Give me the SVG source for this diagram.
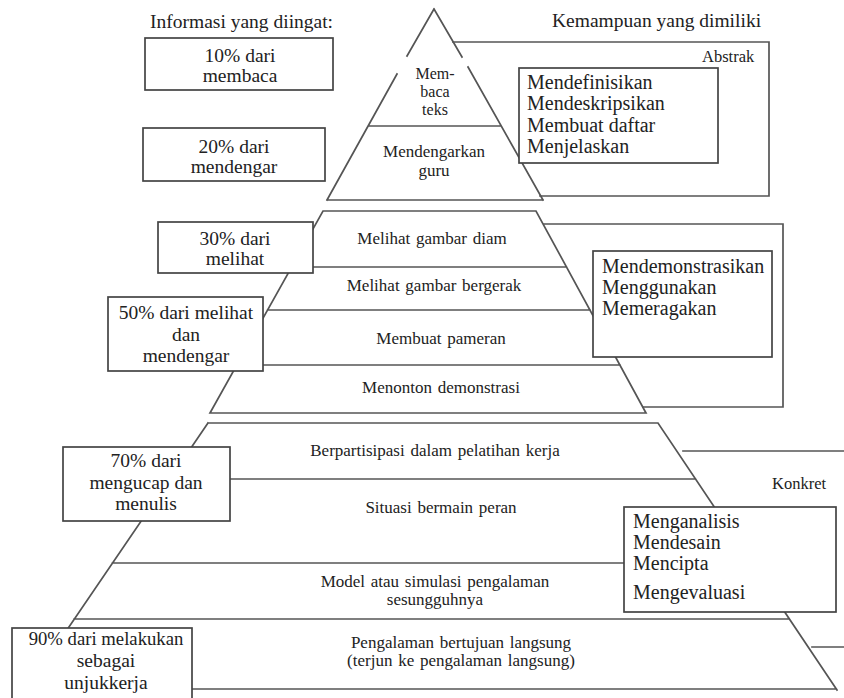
<svg xmlns="http://www.w3.org/2000/svg" width="844" height="698" viewBox="0 0 844 698">
<style>
.ln{stroke:#555;stroke-width:1.7;fill:none;stroke-linecap:square}
.bx{stroke:#444;stroke-width:1.7;fill:#fff}
text{font-family:"Liberation Serif","Times New Roman",serif;fill:#222}
.hd{font-size:19.5px}
.bt{font-size:19.5px;text-anchor:middle}
.rt{font-size:20px}
.pl{font-size:17px;text-anchor:middle;word-spacing:1.5px}
.ps{font-size:16px;text-anchor:middle}
.sm{font-size:16.5px}
</style>
<rect width="844" height="698" fill="#fff"/>
<g id="headers">
<text class="hd" x="150" y="28">Informasi yang diingat:</text>
<text class="hd" x="552" y="27">Kemampuan yang dimiliki</text>
</g>
<g id="connectors">
<g id="pyramid-top">
<path class="ln" d="M434,9 L407,56 M397,74 L327,200 M434,9 L462,57 M468,67 L543,200 M327,200 L543,200 M368.5,126 L500.8,126"/>
</g>
<g id="pyramid-middle">
<path class="ln" d="M323,211 L536,211 L646,413 L210,413 Z M291.6,267 L566.5,267 M267.6,310 L590,310 M236.8,365 L620,365"/>
</g>
<g id="pyramid-bottom">
<path class="ln" d="M208,423 L658,423 L837,690 M208,423 L26,690 M169.8,479 L695.5,479 M112.4,563 L751.8,563 M74.1,619 L789.3,619 M26.7,689 L836.3,689"/>
</g>
<g id="brackets">
<polyline class="ln" points="453,42 769,42 769,196 540,196"/>
<polyline class="ln" points="544,224 783,224 783,407 643,407"/>
<path class="ln" d="M683,451 L844,451 M812,647 L844,647"/>
</g>
</g>
<g id="label-abstrak"><text class="sm" x="702" y="62">Abstrak</text></g>
<g id="label-konkret"><text class="sm" x="772" y="489">Konkret</text></g>
<g id="lvl-membaca-teks">
<text class="ps" x="435" y="79">Mem-</text>
<text class="ps" x="435" y="97">baca</text>
<text class="ps" x="435" y="115">teks</text>
</g>
<g id="lvl-mendengarkan"><text class="pl" x="434" y="157">Mendengarkan</text><text class="pl" x="434" y="176">guru</text></g>
<g id="lvl-gambar-diam"><text class="pl" x="432" y="244">Melihat gambar diam</text></g>
<g id="lvl-gambar-bergerak"><text class="pl" x="434" y="291">Melihat gambar bergerak</text></g>
<g id="lvl-pameran"><text class="pl" x="441" y="344">Membuat pameran</text></g>
<g id="lvl-demonstrasi"><text class="pl" x="441" y="393">Menonton demonstrasi</text></g>
<g id="lvl-pelatihan"><text class="pl" x="435" y="456">Berpartisipasi dalam pelatihan kerja</text></g>
<g id="lvl-bermain-peran"><text class="pl" x="441" y="513">Situasi bermain peran</text></g>
<g id="lvl-simulasi"><text class="pl" x="435" y="587">Model atau simulasi pengalaman</text><text class="pl" x="435" y="605">sesungguhnya</text></g>
<g id="lvl-langsung"><text class="pl" x="461" y="648">Pengalaman bertujuan langsung</text><text class="pl" x="461" y="666">(terjun ke pengalaman langsung)</text></g>
<g id="box-10">
<rect class="bx" x="145" y="38" width="188" height="52"/>
<text class="bt" x="240" y="62">10% dari</text>
<text class="bt" x="240" y="82">membaca</text>
</g>
<g id="box-20">
<rect class="bx" x="143" y="128" width="182" height="53"/>
<text class="bt" x="234" y="153">20% dari</text>
<text class="bt" x="234" y="173">mendengar</text>
</g>
<g id="box-30">
<rect class="bx" x="158" y="222" width="155" height="51"/>
<text class="bt" x="235" y="245">30% dari</text>
<text class="bt" x="235" y="265">melihat</text>
</g>
<g id="box-50">
<rect class="bx" x="108" y="297" width="155" height="74"/>
<text class="bt" x="186" y="319">50% dari melihat</text>
<text class="bt" x="186" y="341">dan</text>
<text class="bt" x="186" y="362">mendengar</text>
</g>
<g id="box-70">
<rect class="bx" x="63" y="447" width="167" height="74"/>
<text class="bt" x="146" y="467">70% dari</text>
<text class="bt" x="146" y="489">mengucap dan</text>
<text class="bt" x="146" y="510">menulis</text>
</g>
<g id="box-90">
<rect class="bx" x="12" y="628" width="180" height="80"/>
<text class="bt" x="106" y="645" style="font-size:18.7px">90% dari melakukan</text>
<text class="bt" x="106" y="667">sebagai</text>
<text class="bt" x="106" y="689">unjukkerja</text>
</g>
<g id="box-abstrak">
<rect class="bx" x="519" y="68" width="199" height="95"/>
<text class="rt" x="527" y="89">Mendefinisikan</text>
<text class="rt" x="527" y="110">Mendeskripsikan</text>
<text class="rt" x="527" y="132">Membuat daftar</text>
<text class="rt" x="527" y="153">Menjelaskan</text>
</g>
<g id="box-tengah">
<rect class="bx" x="593" y="251" width="179" height="106"/>
<text class="rt" x="602" y="273">Mendemonstrasikan</text>
<text class="rt" x="602" y="294">Menggunakan</text>
<text class="rt" x="602" y="315">Memeragakan</text>
</g>
<g id="box-konkret">
<rect class="bx" x="624" y="507" width="212" height="105"/>
<text class="rt" x="633" y="528">Menganalisis</text>
<text class="rt" x="633" y="549">Mendesain</text>
<text class="rt" x="633" y="570">Mencipta</text>
<text class="rt" x="633" y="599">Mengevaluasi</text>
</g>
</svg>
